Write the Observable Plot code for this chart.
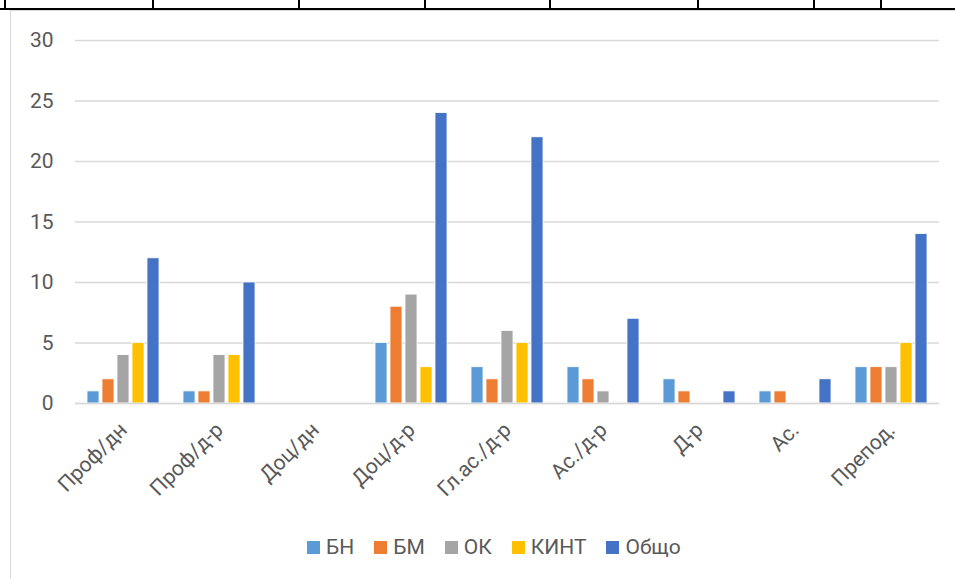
<!DOCTYPE html>
<html>
<head>
<meta charset="utf-8">
<script src="https://cdn.jsdelivr.net/npm/d3@7"></script>
<script src="https://cdn.jsdelivr.net/npm/@observablehq/plot@0.6"></script>
<style>
  html, body { margin: 0; padding: 0; background: #fff; }
  body { width: 955px; height: 579px; position: relative; overflow: hidden; font-family: Roboto, "Noto Sans", sans-serif; }
  #chart { position: absolute; left: 0; top: 0; }
  .frame { position: absolute; left: 10px; top: 10px; width: 960px; height: 600px; border-left: 1px solid #d9d9d9; border-top: 1px solid #d9d9d9; }
  .hline { position: absolute; left: 0; top: 8px; width: 955px; height: 2px; background: #000; }
  .vline { position: absolute; top: 0; width: 2px; height: 9px; background: #000; }
  #legend { position: absolute; left: 307px; top: 535px; display: flex; align-items: center; gap: 20px; font-size: 21px; color: #595959; }
  #legend .item { display: flex; align-items: center; gap: 6px; }
  #legend .sw { width: 13px; height: 13px; display: inline-block; }
</style>
</head>
<body>
<div class="frame"></div>
<div class="hline"></div>
<div id="chart"></div>
<div id="legend"></div>
<script>
const categories = ["Проф/дн", "Проф/д-р", "Доц/дн", "Доц/д-р", "Гл.ас./д-р", "Ас./д-р", "Д-р", "Ас.", "Препод."];
const seriesNames = ["БН", "БМ", "ОК", "КИНТ", "Общо"];
const seriesColors = ["#5B9BD5", "#ED7D31", "#A5A5A5", "#FFC000", "#4472C4"];
const valuesBN   = [1, 1, 0, 5, 3, 3, 2, 1, 3];
const valuesBM   = [2, 1, 0, 8, 2, 2, 1, 1, 3];
const valuesOK   = [4, 4, 0, 9, 6, 1, 0, 0, 3];
const valuesKINT = [5, 4, 0, 3, 5, 0, 0, 0, 5];
const valuesTotal = [12, 10, 0, 24, 22, 7, 1, 2, 14];
const yTicks = [0, 5, 10, 15, 20, 25, 30];
const tableLinesX = [4, 152, 298, 424, 549, 697, 813, 880];

// spreadsheet cell borders behind the chart
for (const x of tableLinesX) {
  const d = document.createElement("div");
  d.className = "vline";
  d.style.left = x + "px";
  document.body.appendChild(d);
}

const allSeries = [valuesBN, valuesBM, valuesOK, valuesKINT, valuesTotal];
const data = [];
categories.forEach((c, i) => {
  seriesNames.forEach((s, j) => data.push({category: c, series: s, value: allSeries[j][i]}));
});

const textColor = "#595959";
const chart = Plot.plot({
  width: 955,
  height: 520,
  marginLeft: 73,
  marginRight: 14,
  marginTop: 40,
  marginBottom: 117,
  style: {fontFamily: "Roboto, 'Noto Sans', sans-serif", background: "transparent"},
  fx: {domain: categories, padding: 0, label: null},
  x: {domain: seriesNames, paddingInner: 0.2, paddingOuter: 0.8, axis: null},
  y: {domain: [0, 30], label: null},
  color: {domain: seriesNames, range: seriesColors},
  marks: [
    Plot.gridY(yTicks, {stroke: "#d9d9d9", strokeOpacity: 1, strokeWidth: 1.3}),
    Plot.barY(data, {
      fx: "category", x: "series", y: "value", fill: "series",
      stroke: "white", strokeWidth: 0.8,
      filter: d => d.value > 0
    }),
    Plot.ruleY([0], {stroke: "#d9d9d9", strokeWidth: 1.5}),
    Plot.axisY(yTicks, {tickSize: 0, tickPadding: 22, fontSize: 21, fill: textColor, label: null}),
    Plot.axisFx({anchor: "bottom", tickRotate: -45, tickSize: 0, tickPadding: 23, fontSize: 21, fill: textColor, label: null, dx: 0})
  ]
});
document.getElementById("chart").appendChild(chart);

const legend = document.getElementById("legend");
seriesNames.forEach((s, j) => {
  const item = document.createElement("div");
  item.className = "item";
  const sw = document.createElement("span");
  sw.className = "sw";
  sw.style.background = seriesColors[j];
  const t = document.createElement("span");
  t.textContent = s;
  item.appendChild(sw);
  item.appendChild(t);
  legend.appendChild(item);
});
</script>
</body>
</html>
